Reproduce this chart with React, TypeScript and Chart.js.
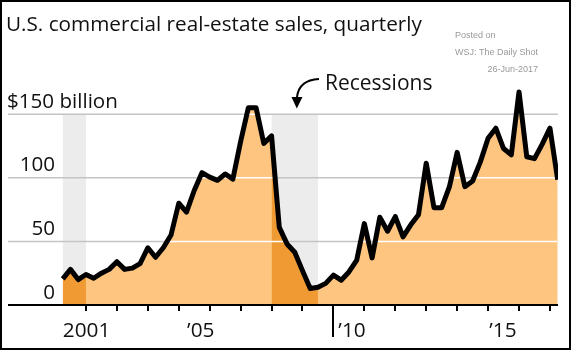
import { useEffect, useRef } from 'react';
import { Chart, registerables } from 'chart.js';

Chart.register(...registerables);

// ---- Data ----
const firstYear = 2001;
const lastYear = 2017;
const lastQuarter = 1;

// Quarterly sales, $ billion, 2001 Q1 .. 2017 Q1
const salesBillions: number[] = [
  20.5, 28, 20, 24,
  21, 25, 28, 34,
  28, 29, 32.5, 45,
  37.5, 45, 55, 80,
  73, 90, 104, 100.5,
  98, 103, 99, 128.5,
  155, 155, 127, 133,
  61, 48, 41.5, 27,
  13, 14, 17, 23.5,
  19.5, 26, 35, 64,
  37, 69, 58, 69.5,
  53.5, 63, 71, 111.5,
  76.5, 76.5, 93, 120,
  93, 97.5, 112.5, 131,
  139, 123, 118, 167.5,
  116.5, 115, 126.5, 139,
  98.5,
];

// Recession bands (fractional years)
const recessionStarts: number[] = [2001.25, 2008.0];
const recessionEnds: number[] = [2002.0, 2009.5];

const yGridValues: number[] = [50, 100, 150];
const yTickValues: number[] = [0, 50, 100, 150];
const yTickLabels: string[] = ['0', '50', '100', '$150 billion'];

const xTickYears: number[] = [2002, 2003, 2004, 2005, 2006, 2007, 2008, 2009, 2010, 2011, 2012, 2013, 2014, 2015, 2016, 2017];
const xMajorTickYear = 2010;
const xLabels: string[] = ['2001', '\u201905', '\u201910', '\u201915'];
const xLabelAt: number[] = [2001.25, 2005.27, 2010.16, 2015.04];

const titleText = 'U.S. commercial real-estate sales, quarterly';
const annotationText = 'Recessions';
const sourceLines: string[] = ['Posted on', 'WSJ: The Daily Shot', '26-Jun-2017'];

// ---- Derived ----
function buildQuarterLabels(): string[] {
  const out: string[] = [];
  for (let y = firstYear; y <= lastYear; y++) {
    for (let q = 1; q <= 4; q++) {
      if (y === lastYear && q > lastQuarter) break;
      out.push(`${y} Q${q}`);
    }
  }
  return out;
}
const quarterLabels = buildQuarterLabels();
const quarterX = (label: string): number => {
  const [y, q] = label.split(' Q');
  return Number(y) + Number(q) / 4; // quarter end
};

const LIGHT = '#fdc57f';
const DARK = '#ef9a33';
const FONT = '"Open Sans", "Noto Sans", sans-serif';

export default function App() {
  const ref = useRef<HTMLCanvasElement | null>(null);

  useEffect(() => {
    const canvas = ref.current;
    if (!canvas) return;

    const pts = quarterLabels.map((l, i) => ({ x: quarterX(l), y: salesBillions[i] }));
    const inRecession = (x: number) =>
      recessionStarts.some((s, i) => x >= s - 1e-6 && x <= recessionEnds[i] + 1e-6);
    const recPts = pts.map((p) => ({ x: p.x, y: inRecession(p.x) ? p.y : null }));

    const decor = {
      id: 'decor',
      beforeDraw(chart: any) {
        const { ctx, chartArea } = chart;
        const xs = chart.scales.x;
        const ys = chart.scales.y;
        ctx.save();
        ctx.fillStyle = '#ffffff';
        ctx.fillRect(0, 0, chart.width, chart.height);
        // recession bands
        ctx.fillStyle = '#ececec';
        const top = ys.getPixelForValue(150);
        const bottom = ys.getPixelForValue(0);
        recessionStarts.forEach((s, i) => {
          const x1 = xs.getPixelForValue(s);
          const x2 = xs.getPixelForValue(recessionEnds[i]);
          ctx.fillRect(x1, top, x2 - x1, bottom - top);
        });
        // grid lines
        ctx.strokeStyle = '#c4c4c4';
        ctx.lineWidth = 1.5;
        yGridValues.forEach((v) => {
          const y = ys.getPixelForValue(v);
          ctx.beginPath();
          ctx.moveTo(chartArea.left, y);
          ctx.lineTo(chartArea.right, y);
          ctx.stroke();
        });
        ctx.restore();
      },
      beforeDatasetDraw(chart: any, args: any) {
        if (args.index !== 0) return;
        const { ctx, chartArea } = chart;
        const ys = chart.scales.y;
        const meta = chart.getDatasetMeta(2);
        const els = meta.data;
        if (!els.length) return;
        const y0 = ys.getPixelForValue(0);
        ctx.save();
        ctx.beginPath();
        ctx.moveTo(els[0].x, y0);
        els.forEach((e: any) => ctx.lineTo(e.x, e.y));
        ctx.lineTo(els[els.length - 1].x, y0);
        ctx.closePath();
        ctx.clip();
        ctx.strokeStyle = '#ffffff';
        ctx.lineWidth = 1.5;
        yGridValues.forEach((v) => {
          const y = ys.getPixelForValue(v);
          ctx.beginPath();
          ctx.moveTo(chartArea.left, y);
          ctx.lineTo(chartArea.right, y);
          ctx.stroke();
        });
        ctx.restore();
      },
      afterDraw(chart: any) {
        const { ctx, chartArea } = chart;
        const xs = chart.scales.x;
        const ys = chart.scales.y;
        const y0 = ys.getPixelForValue(0);
        ctx.save();
        // x axis line
        ctx.strokeStyle = '#000';
        ctx.lineWidth = 2;
        ctx.beginPath();
        ctx.moveTo(chartArea.left, y0);
        ctx.lineTo(chartArea.right, y0);
        ctx.stroke();
        // ticks
        xTickYears.forEach((yr) => {
          const x = Math.round(xs.getPixelForValue(yr));
          ctx.beginPath();
          ctx.moveTo(x, y0);
          ctx.lineTo(x, y0 + (yr === xMajorTickYear ? 32 : 6));
          ctx.stroke();
        });
        // x labels
        ctx.fillStyle = '#111';
        ctx.font = `20.8px ${FONT}`;
        ctx.textAlign = 'left';
        ctx.textBaseline = 'alphabetic';
        xLabels.forEach((t, i) => {
          ctx.fillText(t, xs.getPixelForValue(xLabelAt[i]), 337);
        });
        // y labels
        ctx.font = `20.6px ${FONT}`;
        yTickValues.forEach((v, i) => {
          const y = ys.getPixelForValue(v) - 6.5;
          if (v === 150) {
            ctx.textAlign = 'left';
            ctx.fillText(yTickLabels[i], 7, y);
          } else {
            ctx.textAlign = 'right';
            ctx.fillText(yTickLabels[i], 55, y);
          }
        });
        // title
        ctx.textAlign = 'left';
        ctx.font = `20.7px ${FONT}`;
        ctx.fillText(titleText, 6, 31);
        // annotation
        ctx.font = `21px ${FONT}`;
        ctx.fillText(annotationText, 325, 90);
        ctx.strokeStyle = '#000';
        ctx.lineWidth = 2;
        ctx.beginPath();
        ctx.moveTo(319, 79);
        ctx.quadraticCurveTo(299, 80, 297, 97);
        ctx.stroke();
        ctx.beginPath();
        ctx.moveTo(291.5, 97);
        ctx.lineTo(302.5, 97);
        ctx.lineTo(296.8, 108.5);
        ctx.closePath();
        ctx.fillStyle = '#000';
        ctx.fill();
        // source
        ctx.fillStyle = '#9a9a9a';
        ctx.font = '9px "Liberation Sans", Arial, sans-serif';
        ctx.textAlign = 'left';
        ctx.fillText(sourceLines[0], 455, 37.5);
        ctx.textAlign = 'right';
        ctx.fillText(sourceLines[1], 538, 55);
        ctx.fillText(sourceLines[2], 538, 71.5);
        // frame
        ctx.strokeStyle = '#000';
        ctx.lineWidth = 2;
        ctx.strokeRect(1, 1, chart.width - 2, chart.height - 3);
        ctx.restore();
      },
    };

    const chart = new Chart(canvas, {
      type: 'line',
      data: {
        datasets: [
          {
            label: 'Sales',
            data: pts,
            borderColor: '#000',
            borderWidth: 5,
            borderJoinStyle: 'round',
            fill: false,
            pointRadius: 0,
            tension: 0,
            order: 0,
          },
          {
            label: 'Recession',
            data: recPts as any,
            borderColor: 'rgba(0,0,0,0)',
            borderWidth: 0,
            backgroundColor: DARK,
            fill: 'origin',
            pointRadius: 0,
            spanGaps: false,
            tension: 0,
            order: 1,
          },
          {
            label: 'Area',
            data: pts,
            borderColor: 'rgba(0,0,0,0)',
            borderWidth: 0,
            backgroundColor: LIGHT,
            fill: 'origin',
            pointRadius: 0,
            tension: 0,
            order: 2,
          },
        ],
      },
      options: {
        animation: false,
        responsive: false,
        events: [],
        layout: { padding: { left: 8, right: 13, top: 76, bottom: 46 } },
        scales: {
          x: { type: 'linear', min: 1999.48, max: 2017.26, display: false },
          y: { type: 'linear', min: 0, max: 180, display: false },
        },
        plugins: {
          legend: { display: false },
          tooltip: { enabled: false },
        },
      },
      plugins: [decor],
    } as any);

    return () => chart.destroy();
  }, []);

  return (
    <div style={{ position: 'fixed', left: 0, top: 0, width: 571, height: 351, background: '#fff' }}>
      <canvas ref={ref} width={571} height={351} style={{ display: 'block', width: 571, height: 351 }} />
    </div>
  );
}
